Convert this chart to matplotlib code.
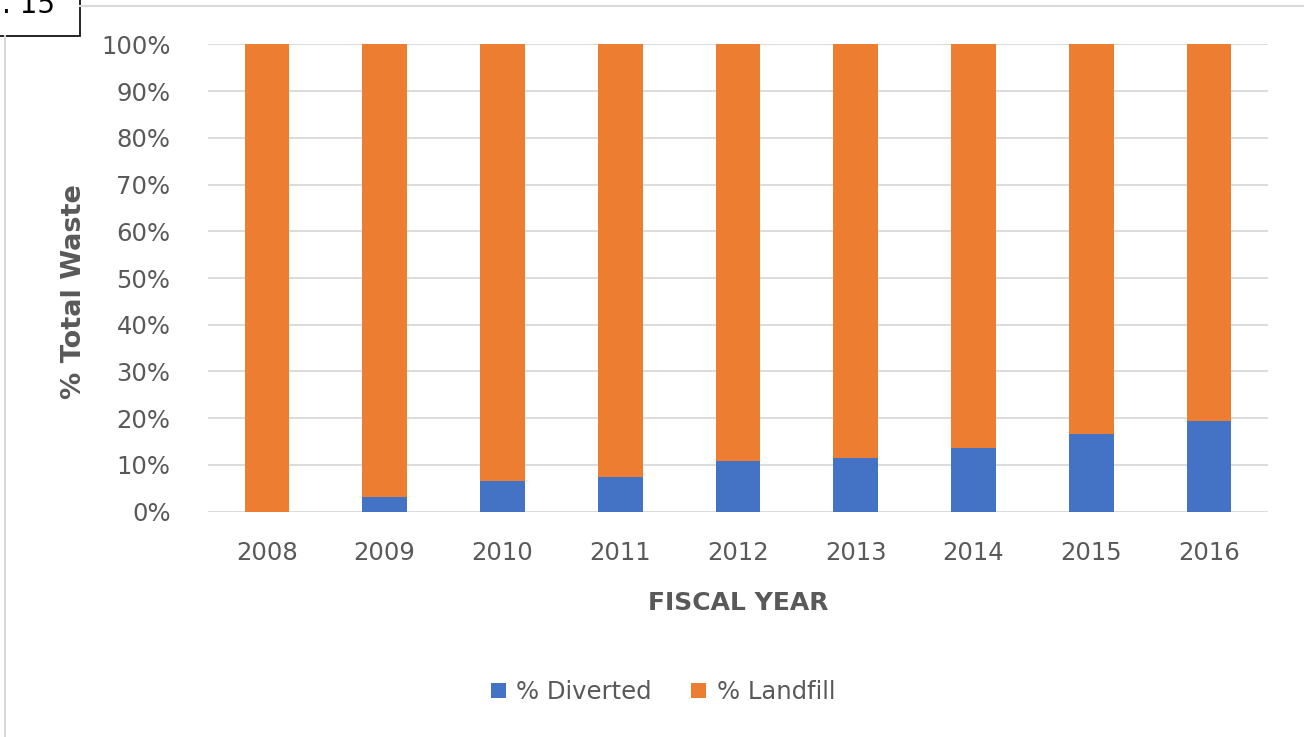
import matplotlib.pyplot as plt
from matplotlib.lines import Line2D
from matplotlib.patches import Rectangle
from matplotlib.ticker import PercentFormatter
from numpy import arange

years = ["2008", "2009", "2010", "2011", "2012", "2013", "2014", "2015", "2016"]
diverted = [0.0, 3.1, 6.6, 7.4, 10.9, 11.4, 13.6, 16.7, 19.3]
landfill = [100 - d for d in diverted]

blue = "#4472C4"
orange = "#ED7D31"
grey_text = "#595959"
grid_grey = "#D9D9D9"

fig = plt.figure(figsize=(13.04, 7.37), dpi=100)
ax = fig.add_axes([208 / 1304, 1 - 511.7 / 737, 1060 / 1304, 467.4 / 737])

x = arange(len(years))
ax.bar(x, diverted, width=0.38, color=blue, label="% Diverted", zorder=3)
ax.bar(x, landfill, width=0.38, bottom=diverted, color=orange, label="% Landfill", zorder=3)

ax.set_xlim(-0.5, len(years) - 0.5)
ax.set_ylim(0, 100)
ax.set_yticks(arange(0, 101, 10))
ax.yaxis.set_major_formatter(PercentFormatter(decimals=0))
ax.set_xticks(x)
ax.set_xticklabels(years)
ax.grid(axis="y", color=grid_grey, linewidth=1.3, zorder=0)
ax.tick_params(axis="both", length=0, labelsize=17.5, labelcolor=grey_text)
ax.tick_params(axis="x", pad=21)
ax.tick_params(axis="y", pad=27)
for s in ax.spines.values():
    s.set_visible(False)

ax.set_xlabel("FISCAL YEAR", fontsize=18, fontweight="bold", color=grey_text)
ax.xaxis.set_label_coords(0.5, -0.195)
ax.xaxis.label.set_va("center")
ax.set_ylabel("% Total Waste", fontsize=19.5, fontweight="bold", color=grey_text)
ax.yaxis.set_label_coords(-0.126, 0.472)
ax.yaxis.label.set_va("center")

fig.legend(loc="center", bbox_to_anchor=(663 / 1304, 1 - 692 / 737), ncol=2,
           frameon=False, fontsize=17.5, labelcolor=grey_text,
           handlelength=0.6, handleheight=0.6, handletextpad=0.45, columnspacing=1.6)

# surrounding frame of the figure page
fig.add_artist(Line2D([80 / 1304, 1], [1 - 6 / 737, 1 - 6 / 737], color=grid_grey, linewidth=1.5))
fig.add_artist(Line2D([5 / 1304, 5 / 1304], [0, 1 - 36 / 737], color=grid_grey, linewidth=1.5))
fig.add_artist(Rectangle((-0.01, 1 - 36 / 737), 80 / 1304 + 0.01, 0.06, fill=False,
                         edgecolor="black", linewidth=1.2, transform=fig.transFigure))
fig.text(2 / 1304, 1 - 13 / 737, ". 15", fontsize=20, color="black", ha="left", va="baseline")

fig.savefig("out.png", dpi=100)
